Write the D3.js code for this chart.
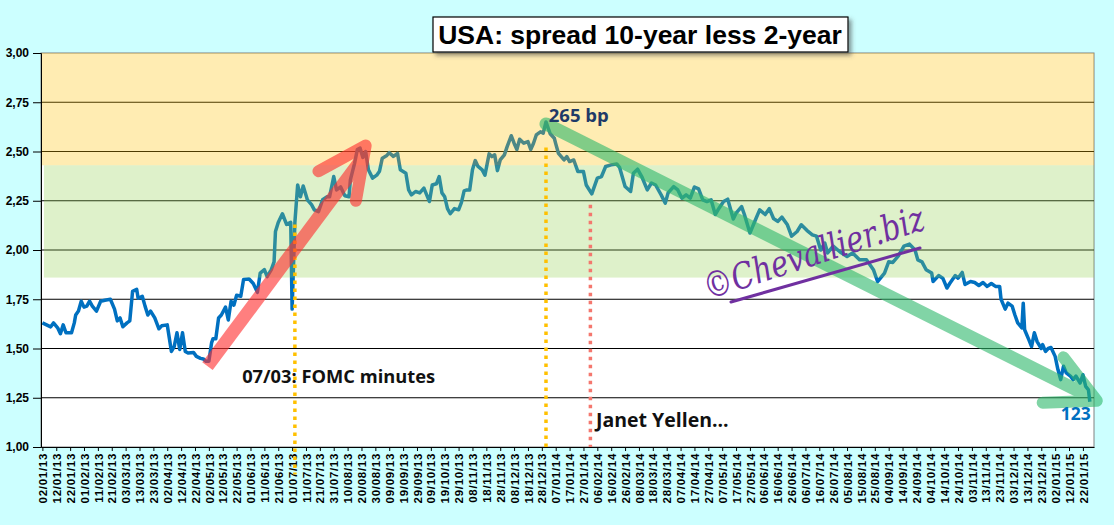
<!DOCTYPE html>
<html>
<head>
<meta charset="utf-8">
<script src="https://cdn.jsdelivr.net/npm/d3@7"></script>
<style>
  body { margin: 0; background: #ccffff; }
  svg { display: block; font-family: "Liberation Sans", Arial, sans-serif; }
</style>
</head>
<body>
<div id="chart"></div>
<script>
// spread 10y - 2y (in %)
const dates = [
  "2013-01-02","2013-01-05","2013-01-08","2013-01-10","2013-01-13","2013-01-15","2013-01-17","2013-01-19","2013-01-23","2013-01-25",
  "2013-01-26","2013-01-28","2013-01-30","2013-02-01","2013-02-03","2013-02-05","2013-02-07","2013-02-10","2013-02-13","2013-02-16",
  "2013-02-20","2013-02-23","2013-02-25","2013-02-27","2013-03-01","2013-03-04","2013-03-06","2013-03-08","2013-03-11","2013-03-12",
  "2013-03-15","2013-03-17","2013-03-19","2013-03-21","2013-03-24","2013-03-27","2013-03-29","2013-04-02","2013-04-05","2013-04-07",
  "2013-04-09","2013-04-11","2013-04-13","2013-04-15","2013-04-17","2013-04-21","2013-04-23","2013-04-26","2013-04-28","2013-04-30",
  "2013-05-02","2013-05-04","2013-05-05","2013-05-07","2013-05-09","2013-05-11","2013-05-14","2013-05-16","2013-05-18","2013-05-20",
  "2013-05-22","2013-05-25","2013-05-27","2013-05-31","2013-06-03","2013-06-06","2013-06-08","2013-06-11","2013-06-13","2013-06-16",
  "2013-06-18","2013-06-19","2013-06-21","2013-06-24","2013-06-27","2013-06-30","2013-07-01","2013-07-03","2013-07-05","2013-07-07",
  "2013-07-09","2013-07-12","2013-07-15","2013-07-17","2013-07-20","2013-07-23","2013-07-26","2013-07-28","2013-07-31","2013-08-02",
  "2013-08-05","2013-08-08","2013-08-11","2013-08-12","2013-08-15","2013-08-17","2013-08-19","2013-08-21","2013-08-23","2013-08-25",
  "2013-08-28","2013-08-31","2013-09-02","2013-09-04","2013-09-07","2013-09-09","2013-09-12","2013-09-15","2013-09-17","2013-09-21",
  "2013-09-23","2013-09-25","2013-09-28","2013-10-01","2013-10-04","2013-10-06","2013-10-08","2013-10-10","2013-10-13","2013-10-15",
  "2013-10-17","2013-10-19","2013-10-21","2013-10-23","2013-10-26","2013-10-29","2013-10-31","2013-11-02","2013-11-04","2013-11-06",
  "2013-11-08","2013-11-10","2013-11-12","2013-11-15","2013-11-17","2013-11-20","2013-11-22","2013-11-24","2013-11-26","2013-11-28",
  "2013-12-01","2013-12-03","2013-12-06","2013-12-08","2013-12-10","2013-12-12","2013-12-15","2013-12-18","2013-12-20","2013-12-22",
  "2013-12-24","2013-12-27","2013-12-29","2013-12-31","2014-01-03","2014-01-06","2014-01-07","2014-01-09","2014-01-13","2014-01-15",
  "2014-01-17","2014-01-20","2014-01-23","2014-01-27","2014-01-29","2014-02-02","2014-02-06","2014-02-09","2014-02-12","2014-02-16",
  "2014-02-20","2014-02-22","2014-02-26","2014-03-02","2014-03-04","2014-03-07","2014-03-10","2014-03-14","2014-03-17","2014-03-20",
  "2014-03-24","2014-03-27","2014-03-29","2014-04-02","2014-04-05","2014-04-08","2014-04-11","2014-04-14","2014-04-17","2014-04-20",
  "2014-04-23","2014-04-26","2014-04-29","2014-05-02","2014-05-04","2014-05-08","2014-05-11","2014-05-15","2014-05-17","2014-05-21",
  "2014-05-23","2014-05-27","2014-05-30","2014-06-03","2014-06-07","2014-06-10","2014-06-13","2014-06-16","2014-06-19","2014-06-23",
  "2014-06-26","2014-06-30","2014-07-03","2014-07-07","2014-07-11","2014-07-14","2014-07-17","2014-07-20","2014-07-22","2014-07-26",
  "2014-07-31","2014-08-05","2014-08-09","2014-08-14","2014-08-19","2014-08-24","2014-08-27","2014-09-01","2014-09-04","2014-09-07",
  "2014-09-11","2014-09-15","2014-09-19","2014-09-23","2014-09-25","2014-09-28","2014-10-01","2014-10-05","2014-10-06","2014-10-10",
  "2014-10-13","2014-10-16","2014-10-18","2014-10-22","2014-10-24","2014-10-27","2014-10-29","2014-11-02","2014-11-05","2014-11-08",
  "2014-11-11","2014-11-14","2014-11-17","2014-11-20","2014-11-23","2014-11-24","2014-11-27","2014-11-29","2014-12-02","2014-12-04",
  "2014-12-06","2014-12-09","2014-12-10","2014-12-11","2014-12-14","2014-12-16","2014-12-18","2014-12-20","2014-12-23","2014-12-24",
  "2014-12-26","2014-12-28","2014-12-30","2015-01-02","2015-01-04","2015-01-06","2015-01-08","2015-01-10","2015-01-13","2015-01-15",
  "2015-01-17","2015-01-20","2015-01-22","2015-01-24","2015-01-26","2015-01-27"
];
const spread = [
  1.63,1.62,1.61,1.63,1.605,1.575,1.62,1.58,1.58,1.63,
  1.67,1.69,1.74,1.71,1.715,1.74,1.715,1.69,1.74,1.745,
  1.75,1.70,1.64,1.655,1.61,1.63,1.64,1.79,1.80,1.755,
  1.765,1.715,1.67,1.69,1.655,1.60,1.615,1.62,1.485,1.51,
  1.58,1.495,1.58,1.485,1.477,1.48,1.46,1.45,1.447,1.435,
  1.435,1.53,1.55,1.55,1.655,1.67,1.71,1.645,1.74,1.72,
  1.77,1.765,1.85,1.853,1.83,1.785,1.883,1.90,1.865,1.90,
  1.94,2.094,2.14,2.184,2.13,2.14,1.70,2.14,2.33,2.27,
  2.325,2.255,2.23,2.204,2.195,2.255,2.27,2.27,2.373,2.305,
  2.32,2.275,2.27,2.356,2.44,2.51,2.517,2.47,2.50,2.407,
  2.365,2.38,2.40,2.466,2.478,2.494,2.475,2.49,2.407,2.39,
  2.305,2.28,2.297,2.29,2.314,2.28,2.246,2.33,2.336,2.373,
  2.29,2.27,2.21,2.184,2.21,2.204,2.24,2.30,2.305,2.305,
  2.407,2.454,2.424,2.407,2.38,2.488,2.474,2.483,2.403,2.457,
  2.483,2.525,2.58,2.542,2.51,2.562,2.542,2.55,2.51,2.542,
  2.584,2.60,2.593,2.65,2.59,2.567,2.54,2.49,2.457,2.474,
  2.449,2.457,2.398,2.398,2.33,2.285,2.365,2.373,2.424,2.432,
  2.437,2.42,2.322,2.297,2.39,2.41,2.373,2.305,2.34,2.33,
  2.28,2.238,2.29,2.322,2.305,2.263,2.28,2.263,2.32,2.31,
  2.255,2.246,2.255,2.18,2.204,2.246,2.258,2.157,2.187,2.22,
  2.18,2.086,2.137,2.204,2.18,2.21,2.16,2.145,2.167,2.128,
  2.07,2.094,2.128,2.10,2.077,2.07,2.00,2.035,1.985,2.02,
  1.99,1.967,1.985,1.95,1.95,1.90,1.84,1.883,1.94,1.937,
  1.97,2.02,2.03,2.00,1.95,1.94,1.90,1.883,1.84,1.87,
  1.857,1.807,1.83,1.87,1.857,1.886,1.825,1.84,1.835,1.82,
  1.835,1.815,1.83,1.815,1.815,1.75,1.70,1.73,1.715,1.67,
  1.63,1.605,1.73,1.595,1.545,1.51,1.58,1.535,1.50,1.52,
  1.485,1.50,1.505,1.46,1.393,1.342,1.41,1.376,1.36,1.342,
  1.36,1.325,1.367,1.308,1.29,1.23
];
const yTicks = [1.00, 1.25, 1.50, 1.75, 2.00, 2.25, 2.50, 2.75, 3.00];
const firstTickDate = "2013-01-02";
const lastTickDate = "2015-01-22";
const zoneBounds = [3.00, 2.43, 1.86];   // high zone / middle zone limits

const W = 1114, H = 525;
const parse = d3.timeParse("%Y-%m-%d");
const points = dates.map((d, i) => ({date: parse(d), v: spread[i]}));

const x = d3.scaleTime()
    .domain([parse("2013-01-01"), parse("2015-01-30")])
    .range([41, 1094]);
const y = d3.scaleLinear()
    .domain([1, 3])
    .range([447, 53]);
const P = (d, v) => [x(parse(d)), y(v)];

const svg = d3.select("#chart").append("svg")
    .attr("width", W)
    .attr("height", H);

const defs = svg.append("defs");
const shadow = defs.append("filter").attr("id", "shadow")
    .attr("x", "-10%").attr("y", "-30%").attr("width", "120%").attr("height", "170%");
shadow.append("feDropShadow")
    .attr("dx", 3).attr("dy", 3).attr("stdDeviation", 2)
    .attr("flood-color", "#444").attr("flood-opacity", 0.55);

svg.append("rect").attr("width", W).attr("height", H).attr("fill", "#ccffff");

// plot area
const [x0, x1] = x.range();
const [yb, yt] = y.range();
svg.append("rect")
    .attr("x", x0).attr("y", yt)
    .attr("width", x1 - x0).attr("height", yb - yt)
    .attr("fill", "#fff")
    .attr("stroke", "#808080");

// grid lines
svg.append("g").selectAll("line")
    .data(yTicks.filter(t => t > 1 && t < 3))
    .join("line")
    .attr("x1", x0).attr("x2", x1)
    .attr("y1", d => y(d)).attr("y2", d => y(d))
    .attr("stroke", "#000").attr("stroke-width", 1);

// spread line
const line = d3.line()
    .x(d => x(d.date))
    .y(d => y(d.v));
svg.append("path")
    .datum(points)
    .attr("fill", "none")
    .attr("stroke", "#0070c0")
    .attr("stroke-width", 3.5)
    .attr("stroke-linejoin", "round")
    .attr("d", line);

// zones (semi-transparent, on top of the line)
svg.append("rect")
    .attr("x", x0).attr("y", y(zoneBounds[0]))
    .attr("width", x1 - x0).attr("height", y(zoneBounds[1]) - y(zoneBounds[0]))
    .attr("fill", "#ffc000").attr("fill-opacity", 0.3);
svg.append("rect")
    .attr("x", x0 + 3).attr("y", y(zoneBounds[1]))
    .attr("width", x1 - x0 - 3).attr("height", y(zoneBounds[2]) - y(zoneBounds[1]))
    .attr("fill", "#92d050").attr("fill-opacity", 0.3);

// y axis
const yAxis = svg.append("g")
    .attr("transform", `translate(${x0},0)`)
    .call(d3.axisLeft(y)
        .tickValues(yTicks)
        .tickSize(8)
        .tickPadding(4)
        .tickFormat(d => d3.format(".2f")(d).replace(".", ",")));
yAxis.select(".domain").attr("stroke", "#000");
yAxis.selectAll(".tick line").attr("stroke", "#000");
yAxis.selectAll("text")
    .attr("font-size", 12).attr("font-weight", "bold").attr("fill", "#000")
    .attr("font-family", "'Liberation Sans', Arial, sans-serif");

// x axis: a label every 10 days
const tickDates = d3.timeDay.range(parse(firstTickDate), d3.timeDay.offset(parse(lastTickDate), 1), 10);
const xAxis = svg.append("g")
    .attr("transform", `translate(0,${yb})`)
    .call(d3.axisBottom(x)
        .tickValues(tickDates)
        .tickSize(4)
        .tickSizeOuter(0)
        .tickFormat(d3.timeFormat("%d/%m/%y")));
xAxis.select(".domain").attr("stroke", "#000");
xAxis.selectAll(".tick line").attr("stroke", "#000");
xAxis.selectAll("text")
    .attr("font-size", 11.5).attr("font-weight", "bold").attr("fill", "#000")
    .attr("font-family", "'Liberation Sans', Arial, sans-serif")
    .attr("letter-spacing", "0.7px")
    .attr("text-anchor", "end")
    .attr("transform", "rotate(-90)")
    .attr("x", -6).attr("y", 0).attr("dy", "0.36em");

// event markers (dotted verticals)
const dotted = (d, vTop, vBottom, color) => svg.append("line")
    .attr("x1", x(parse(d))).attr("x2", x(parse(d)))
    .attr("y1", y(vTop)).attr("y2", y(vBottom))
    .attr("stroke", color).attr("stroke-width", 3.5)
    .attr("stroke-dasharray", "3.5,4.5");
dotted("2013-07-03", 2.13, 0.86, "#ffc000");
dotted("2013-12-31", 2.52, 1.0, "#ffc000");
dotted("2014-02-01", 2.23, 1.0, "#f4776e");

// trend arrows
const path = d3.line();
const red = svg.append("g").attr("opacity", 0.62).attr("fill", "none").attr("stroke", "#ff3030");
red.append("path")
    .attr("d", path([P("2013-05-01", 1.41), P("2013-08-20", 2.46)]))
    .attr("stroke-width", 13);
red.append("path")
    .attr("d", path([P("2013-07-20", 2.40), P("2013-08-23", 2.53), P("2013-08-16", 2.25)]))
    .attr("stroke-width", 12).attr("stroke-linecap", "round").attr("stroke-linejoin", "round");

const green = svg.append("g").attr("opacity", 0.6).attr("fill", "none").attr("stroke", "#2db86a");
green.append("path")
    .attr("d", path([P("2013-12-31", 2.64), P("2015-01-30", 1.245)]))
    .attr("stroke-width", 13).attr("stroke-linecap", "round");
green.append("path")
    .attr("d", path([P("2015-01-08", 1.455), P("2015-02-01", 1.235), P("2014-12-24", 1.225)]))
    .attr("stroke-width", 12).attr("stroke-linecap", "round").attr("stroke-linejoin", "round");

// annotations
const note = (d, v, txt, color, size) => svg.append("text")
    .attr("x", x(parse(d))).attr("y", y(v))
    .attr("font-family", "'Open Sans', 'Noto Sans', sans-serif")
    .attr("font-weight", "bold").attr("font-size", size)
    .attr("fill", color)
    .text(txt);
note("2014-01-02", 2.652, "265 bp", "#1f3a68", 18.5);
note("2013-05-26", 1.327, "07/03: FOMC minutes", "#111", 18.3);
note("2014-02-05", 1.103, "Janet Yellen...", "#111", 19.5);
note("2015-01-06", 1.139, "123", "#0070c0", 17.5);

// watermark
const wm = svg.append("g").attr("transform", "translate(708,300) rotate(-18)");
wm.append("text")
    .attr("font-family", "'DejaVu Serif', serif")
    .attr("font-style", "italic")
    .attr("font-size", 36)
    .attr("fill", "#7030a0")
    .attr("textLength", 230)
    .attr("lengthAdjust", "spacingAndGlyphs")
    .text("©Chevallier.biz");
svg.append("line")
    .attr("x1", 731).attr("y1", 302).attr("x2", 920).attr("y2", 248)
    .attr("stroke", "#7030a0").attr("stroke-width", 3).attr("stroke-linecap", "round");

// title
svg.append("rect")
    .attr("x", 433).attr("y", 17).attr("width", 415).attr("height", 35)
    .attr("fill", "#fff").attr("stroke", "#000").attr("stroke-width", 1.2)
    .attr("filter", "url(#shadow)");
svg.append("text")
    .attr("x", 640).attr("y", 44)
    .attr("text-anchor", "middle")
    .attr("font-size", 26.5).attr("font-weight", "bold").attr("fill", "#000")
    .text("USA: spread 10-year less 2-year");
</script>
</body>
</html>
